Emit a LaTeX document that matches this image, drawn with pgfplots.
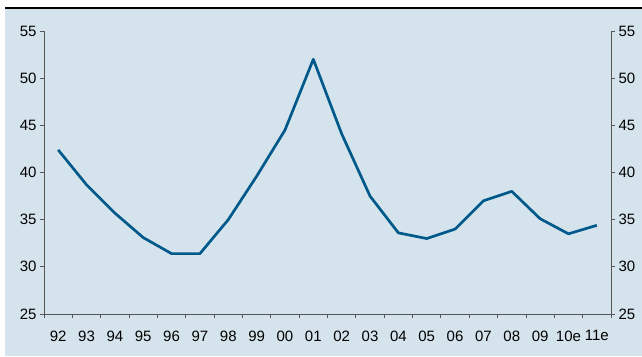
\documentclass[border=0pt]{standalone}
\usepackage{fontspec}
\setmainfont{Liberation Sans}
\usepackage{pgfplots}
\pgfplotsset{compat=1.18}
\definecolor{bg}{HTML}{D5E4EC}
\definecolor{ln}{HTML}{00598A}
\definecolor{ax}{HTML}{555555}
\begin{document}
\begin{tikzpicture}
\useasboundingbox (0pt,0pt) rectangle (642pt,356pt);
\fill[bg] (5pt,0pt) rectangle (642pt,347pt);
\draw[black, line width=1.6pt] (5pt,347.8pt) -- (642pt,347.8pt);
\pgfplotsset{common/.style={at={(44pt,42pt)}, anchor=south west, scale only axis,
  width=567pt, height=283pt, xmin=-0.5, xmax=19.5, ymin=25, ymax=55,
  ytick={25,30,...,55}, tick align=outside, major tick length=4pt,
  axis line style={ax, line width=0.9pt,-}, tick style={ax, line width=0.9pt},
  tick label style={font=\fontsize{15}{18}\selectfont},
  /pgf/number format/assume math mode=true}}
\begin{axis}[common, axis y line*=left, axis x line*=bottom,
  xtick={-0.5,0.5,...,19.5}, xticklabels={},
  extra x ticks={0,1,...,19},
  extra x tick labels={92,93,94,95,96,97,98,99,00,01,02,03,04,05,06,07,08,09,10e,11e},
  extra x tick style={major tick length=0pt, tick label style={yshift=-13pt}}]
\addplot[ln, line width=2.7pt, line join=round] coordinates {
(0,42.4) (1,38.7) (2,35.7) (3,33.1) (4,31.4) (5,31.4) (6,35.0) (7,39.6) (8,44.5) (9,52.0)
(10,44.1) (11,37.5) (12,33.6) (13,33.0) (14,34.0) (15,37.0) (16,38.0) (17,35.1) (18,33.5) (19,34.4)};
\end{axis}
\begin{axis}[common, axis y line*=right, axis x line=none]
\end{axis}
\end{tikzpicture}
\end{document}
